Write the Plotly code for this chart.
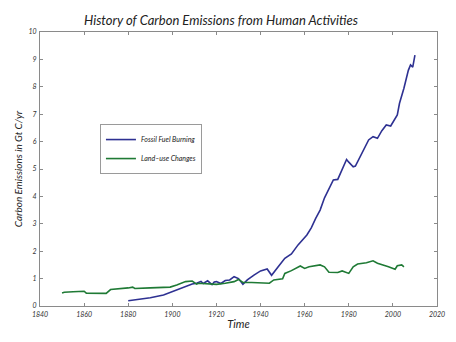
import plotly.graph_objects as go

# Fossil fuel burning (Gt C/yr)
fossil_years = [1880, 1885, 1890, 1896, 1900, 1903, 1906, 1909, 1911, 1913, 1914, 1916, 1918, 1919,
                1920, 1922, 1924, 1926, 1928, 1930, 1932, 1934, 1937, 1940, 1943, 1945, 1948,
                1951, 1954, 1957, 1961, 1963, 1965, 1967, 1969, 1971, 1973, 1975, 1977, 1979,
                1980, 1982, 1983, 1986, 1989, 1991, 1993, 1995, 1997, 1999, 2000, 2002, 2003,
                2005, 2007, 2008, 2009, 2010]
fossil_vals = [0.19, 0.25, 0.30, 0.40, 0.52, 0.60, 0.70, 0.80, 0.83, 0.90, 0.82, 0.92, 0.78, 0.88,
               0.89, 0.82, 0.93, 0.95, 1.07, 1.00, 0.79, 0.95, 1.13, 1.28, 1.35, 1.12, 1.43,
               1.74, 1.90, 2.23, 2.59, 2.85, 3.20, 3.50, 3.95, 4.25, 4.60, 4.62, 5.02, 5.35,
               5.25, 5.08, 5.11, 5.60, 6.06, 6.18, 6.12, 6.40, 6.61, 6.57, 6.70, 6.97, 7.40,
               7.95, 8.60, 8.80, 8.72, 9.16]

# Land-use changes (Gt C/yr)
land_years = [1850, 1851, 1855, 1860, 1861, 1865, 1870, 1872, 1876, 1880, 1882, 1883, 1890, 1899,
              1902, 1906, 1909, 1911, 1912, 1916, 1920, 1924, 1928, 1930, 1932, 1936, 1939,
              1944, 1946, 1950, 1951, 1954, 1958, 1960, 1962, 1967, 1969, 1971, 1975, 1977,
              1980, 1982, 1984, 1988, 1991, 1993, 1998, 2001, 2002, 2004, 2005]
land_vals = [0.47, 0.50, 0.52, 0.54, 0.47, 0.47, 0.46, 0.60, 0.62, 0.66, 0.69, 0.64, 0.66, 0.69,
             0.77, 0.89, 0.91, 0.80, 0.83, 0.80, 0.79, 0.83, 0.89, 0.97, 0.86, 0.86, 0.84,
             0.83, 0.95, 0.99, 1.19, 1.29, 1.46, 1.37, 1.43, 1.50, 1.43, 1.23, 1.22, 1.28,
             1.19, 1.43, 1.53, 1.58, 1.65, 1.56, 1.43, 1.34, 1.47, 1.50, 1.43]

x_ticks = [1840, 1860, 1880, 1900, 1920, 1940, 1960, 1980, 2000, 2020]
y_ticks = [0, 1, 2, 3, 4, 5, 6, 7, 8, 9, 10]

FONT = "Lato"

fig = go.Figure()
fig.add_trace(go.Scatter(x=fossil_years, y=fossil_vals, mode="lines",
                         name="Fossil Fuel Burning",
                         line=dict(color="#2e3192", width=1.6)))
fig.add_trace(go.Scatter(x=land_years, y=land_vals, mode="lines",
                         name="Land\u2013use Changes",
                         line=dict(color="#1f7a35", width=1.6)))

axis_common = dict(showline=True, linecolor="#8a8a8a", linewidth=1, mirror="ticks",
                   ticks="inside", ticklen=3, tickcolor="#8a8a8a", showgrid=False,
                   zeroline=False,
                   tickfont=dict(family=FONT, size=7, color="#333", style="italic"))

fig.update_layout(
    width=456, height=342,
    margin=dict(l=40, r=19, t=32, b=36),
    paper_bgcolor="white", plot_bgcolor="white",
    title=dict(text="History of Carbon Emissions from Human Activities",
               x=221/456, xanchor="center", y=1-20/342, yanchor="middle",
               font=dict(family=FONT, size=13, color="#222", style="italic")),
    xaxis=dict(range=[1840, 2020], tickvals=x_ticks, ticklabelstandoff=2,
               title=dict(text="Time", standoff=2,
                          font=dict(family=FONT, size=11, color="#222", style="italic")),
               **axis_common),
    yaxis=dict(range=[0, 10], tickvals=y_ticks, ticklabelstandoff=1,
               title=dict(text="Carbon Emissions in Gt C/yr", standoff=3,
                          font=dict(family=FONT, size=10, color="#222", style="italic")),
               **axis_common),
    legend=dict(x=0.151, y=0.664, xanchor="left", yanchor="top",
                bgcolor="white", bordercolor="#9a9a9a", borderwidth=1,
                font=dict(family=FONT, size=7, color="#222", style="italic"),
                tracegroupgap=0, itemwidth=30),
    showlegend=True,
)

fig.write_html("out.html")
